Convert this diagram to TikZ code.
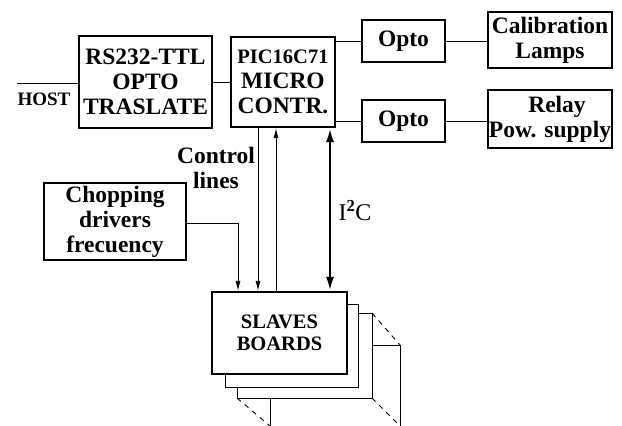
\documentclass[tikz,border=0pt]{standalone}
\usepackage{fontspec}
\setmainfont{Liberation Serif}
\usepackage{tikz}
\usetikzlibrary{positioning,arrows.meta}
\newcommand{\lblfont}{\fontsize{23.5}{25}\selectfont\bfseries}
\newcommand{\smlfont}{\fontsize{20.5}{22}\selectfont\bfseries}
\tikzset{
  % --- blocks ----------------------------------------------------------------
  blk/.style={draw,line width=2.2pt,fill=white,align=center,inner sep=0pt,
              font=\lblfont},
  optobox/.style={blk,line width=2pt,minimum width=83pt,minimum height=42pt},
  sheet/.style={draw,line width=0.9pt,fill=white},
  % --- wires -----------------------------------------------------------------
  wire/.style={line width=0.9pt},
  sig/.style={wire,-{Latex[length=10pt,width=5pt]}},
  bus/.style={line width=2.4pt,{Latex[length=14pt,width=8pt]}-{Latex[length=14pt,width=8pt]}},
  txt/.style={align=center,inner sep=0pt,font=\lblfont},
}
\begin{document}
\begin{tikzpicture}[x=1pt, y=-1pt]
  \useasboundingbox (0,0) rectangle (622,426);

  \node[blk,minimum width=133pt,minimum height=92pt] (rs) at (145.5,82)
    {RS232-TTL\\OPTO\\TRASLATE};
  \node[blk,minimum width=104pt,minimum height=90pt] (pic) at (283,82)
    {{\smlfont PIC16C71}\\MICRO\\CONTR.};
  \node[optobox] (optoa) at (403.5,41)  {Opto};
  \node[optobox] (optob) at (403.5,121) {Opto};
  \node[blk,minimum width=124pt,minimum height=56pt] (calib) at (550,40)
    {Calibration\\Lamps};
  \node[blk,minimum width=124pt,minimum height=58pt] (relay) at (550,119)
    {\hspace*{14pt}Relay\\Pow. supply};
  \node[blk,minimum width=142pt,minimum height=77pt] (chop) at (115,221.5)
    {Chopping\\drivers\\frecuency};

  % stacked boards behind the slaves
  \draw[wire] (372,345) -- (400,345) -- (400,426);
  \draw[wire] (270,398) -- (270,426);
  \draw[wire,dash pattern=on 5pt off 5pt] (372,313) -- (400,345);
  \draw[wire,dash pattern=on 5pt off 5pt] (372,398) -- (400,426);
  \draw[wire,dash pattern=on 5pt off 5pt] (237,398) -- (270,426);
  \draw[sheet] (237,313) rectangle (372,398);
  \draw[sheet] (225,304) rectangle (358,387);
  \node[blk,font=\smlfont,minimum width=135pt,minimum height=82pt] (slaves)
    at (279.5,333) {SLAVES\\BOARDS};

  \coordinate (host) at (17,83);
  \node[txt,font=\fontsize{19}{22}\selectfont\bfseries] (hostlbl) at (44,99) {HOST};
  \coordinate (cl1) at (258,0);
  \coordinate (cl2) at (276,0);
  \coordinate (iic) at (330,0);
  \coordinate (chopin) at (238,223);

  \draw[wire] (host) -- (host -| rs.west);
  \draw[wire] (rs.east) -- (pic.west);
  \draw[wire] (pic.east |- optoa) -- (optoa.west);
  \draw[wire] (pic.east |- optob) -- (optob.west);
  \draw[wire] (optoa.east) -- (optoa.east -| calib.west);
  \draw[wire] (optob.east) -- (optob.east -| relay.west);

  \draw[sig] (chop.east |- chopin) -- (chopin) -- (slaves.north -| chopin);
  \draw[sig] (pic.south -| cl1) -- (slaves.north -| cl1);
  \draw[sig] (slaves.north -| cl2) -- (pic.south -| cl2);
  \draw[bus] (pic.south -| iic) -- (slaves.north -| iic);

  \node[txt] (ctrl) at (216,168) {Control\\lines};
  \node[txt,font=\fontsize{24}{26}\selectfont] (iiclbl) at (355,211)
    {I$^{\mathbf 2}$C};
\end{tikzpicture}
\end{document}
